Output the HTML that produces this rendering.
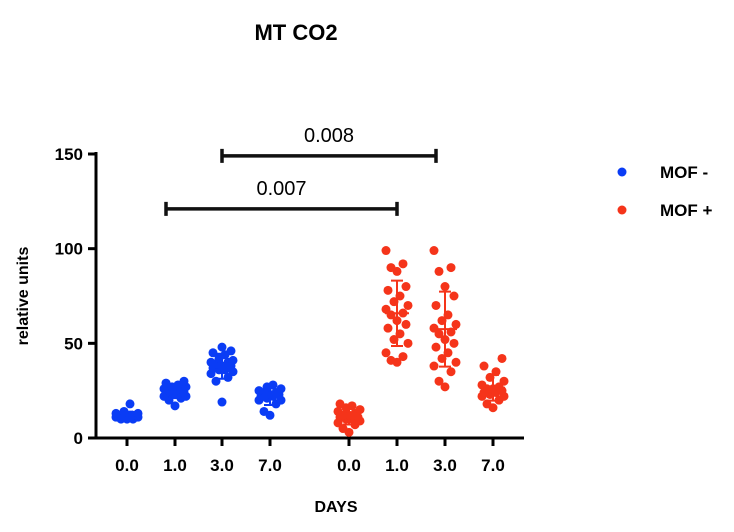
<!DOCTYPE html>
<html><head><meta charset="utf-8"><style>
body{margin:0;background:#fff;font-family:"Liberation Sans",Arial,sans-serif}
</style></head><body>
<svg id="chart" width="734" height="527" xmlns="http://www.w3.org/2000/svg" font-family="Liberation Sans, Arial, sans-serif">
<text x="296" y="40" text-anchor="middle" font-size="22" font-weight="bold">MT CO2</text>
<text transform="translate(28,296) rotate(-90)" text-anchor="middle" font-size="16" font-weight="bold">relative units</text>
<text x="336" y="512" text-anchor="middle" font-size="16" font-weight="bold">DAYS</text>
<g id="axes"></g><g id="marks"></g><g id="sig"></g>
<g>
<circle cx="622" cy="172" r="4.5" fill="#0a3cf5"/>
<text x="660" y="178" font-size="17" font-weight="bold">MOF -</text>
<circle cx="622" cy="210" r="4.5" fill="#f5341a"/>
<text x="660" y="216" font-size="17" font-weight="bold">MOF +</text>
</g>
</svg>
<script>
const categories=["0.0","1.0","3.0","7.0","0.0","1.0","3.0","7.0"];
const groupSeries=["MOF -","MOF -","MOF -","MOF -","MOF +","MOF +","MOF +","MOF +"];
const yTicks=[0,50,100,150];
const g0=[10,11,12,11,13,12,10,11,12,14,13,11,18,12,10,11];
const g1=[17,20,22,23,24,25,26,27,28,29,30,24,23,22,25,26,21,27];
const g2=[19,30,32,34,35,36,38,39,40,41,42,44,45,46,48,37,38,40,36];
const g3=[12,14,18,20,21,22,23,24,25,26,27,28,22,23,24,20];
const g4=[3,5,7,8,9,10,11,12,13,14,15,16,17,18,10,12,11];
const g5=[40,41,43,45,50,52,55,58,60,62,65,66,68,70,72,75,78,80,88,90,92,99];
const g6=[27,30,35,38,40,42,45,48,50,52,55,56,58,60,62,65,70,75,80,88,90,99];
const g7=[16,18,20,22,23,24,25,26,27,28,30,32,35,38,42,22,24,26];
const groups=[g0,g1,g2,g3,g4,g5,g6,g7];
const sigLabels=["0.008","0.007"];
const sigPairs=[[2,6],[1,5]];
const sigHeights=[149,121];

const NS="http://www.w3.org/2000/svg";
const X0=96,XEND=524,Y0=438,YTOP=154;
const xPos=[127,175,222,270,349,397,445,493];
const y=v=>Y0-(v/150)*(Y0-YTOP);
const colors={"MOF -":"#0a3cf5","MOF +":"#f5341a"};
function mk(t,a,p){const e=document.createElementNS(NS,t);for(const k in a)e.setAttribute(k,a[k]);(p||document.getElementById('marks')).appendChild(e);return e;}
const ax=document.getElementById('axes');
let e=mk('line',{x1:X0,y1:YTOP-2,x2:X0,y2:Y0+1,stroke:'#000','stroke-width':3},ax);


e=mk('line',{x1:X0-1,y1:Y0,x2:XEND,y2:Y0,stroke:'#000','stroke-width':3},ax);


yTicks.forEach(t=>{
 const l=mk('line',{x1:X0-8,y1:y(t),x2:X0,y2:y(t),stroke:'#000','stroke-width':3},ax);
 
 
 const tx=mk('text',{x:X0-13,y:y(t)+6,'text-anchor':'end','font-size':17,'font-weight':'bold'},ax);
 tx.textContent=t;
 
 
});
categories.forEach((c,i)=>{
 const l=mk('line',{x1:xPos[i],y1:Y0,x2:xPos[i],y2:Y0+8,stroke:'#000','stroke-width':3},ax);
 
 
 const tx=mk('text',{x:xPos[i],y:Y0+33,'text-anchor':'middle','font-size':17,'font-weight':'bold'},ax);
 tx.textContent=c;
 
 
});
const jit=[0,-6,6,-11,11,-3,3,-9,9];
groups.forEach((vals,i)=>{
 const col=colors[groupSeries[i]];
 const sorted=vals.slice().sort((a,b)=>a-b);
 sorted.forEach((v,j)=>{
  const c=mk('circle',{cx:xPos[i]+jit[j%jit.length],cy:y(v),r:4.5,fill:col});
  
  
 });
 const m=vals.reduce((a,b)=>a+b,0)/vals.length;
 const sd=Math.sqrt(vals.reduce((a,b)=>a+(b-m)*(b-m),0)/(vals.length-1));
 const eb=mk('path',{d:`M${xPos[i]-12},${y(m)}H${xPos[i]+12}M${xPos[i]},${y(m-sd)}V${y(m+sd)}M${xPos[i]-6},${y(m-sd)}H${xPos[i]+6}M${xPos[i]-6},${y(m+sd)}H${xPos[i]+6}`,stroke:col,'stroke-width':2,fill:'none'});
 
 
});
const sg=document.getElementById('sig');
sigPairs.forEach((p,k)=>{
 const a=xPos[p[0]]-(k==1?9:0),b=xPos[p[1]]-(k==0?9:0),yy=y(sigHeights[k]);
 const br=mk('path',{d:`M${a},${yy}H${b}M${a},${yy-7}V${yy+7}M${b},${yy-7}V${yy+7}`,stroke:'#111','stroke-width':3.5,fill:'none'},sg);
 
 
 const t=mk('text',{x:(a+b)/2,y:yy-14,'text-anchor':'middle','font-size':20},sg);
 t.textContent=sigLabels[k];
 
 
});
</script>
</body></html>
